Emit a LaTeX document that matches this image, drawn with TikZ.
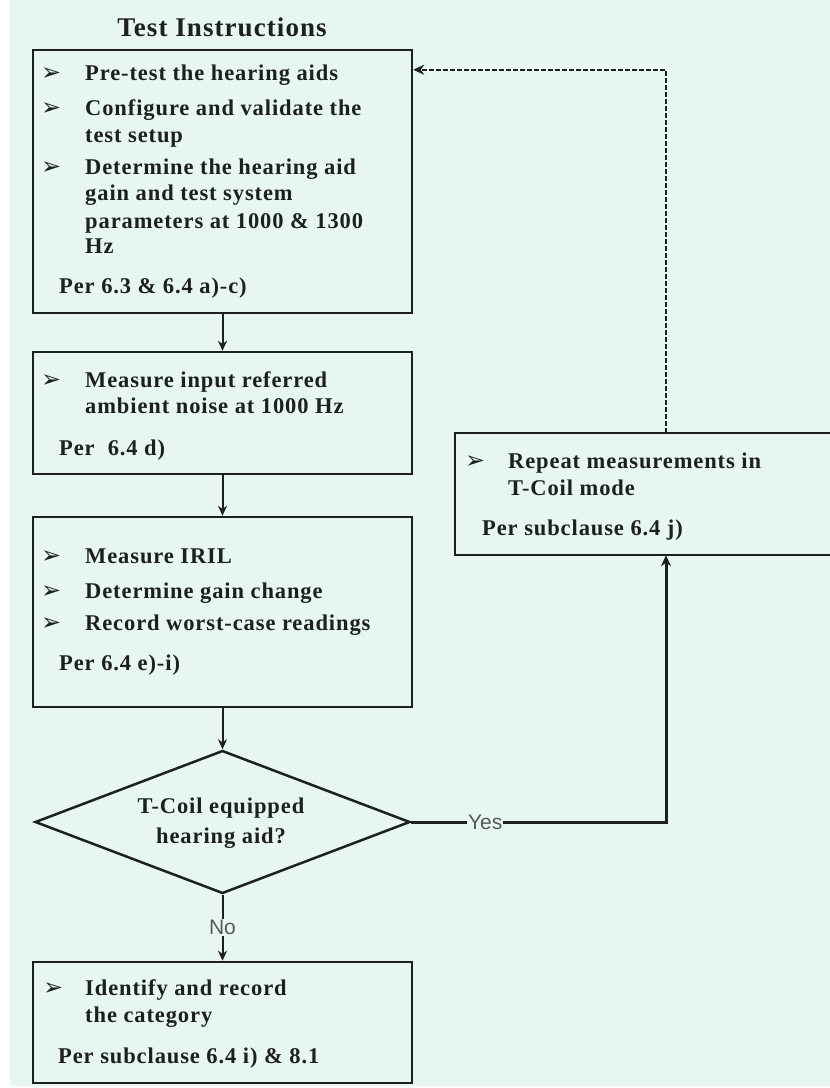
\documentclass[tikz,border=0pt]{standalone}
\usepackage{fontspec}
\setmainfont{Liberation Serif}
\newfontfamily\boxfont{Liberation Serif}[LetterSpace=4]
\newfontfamily\bulfont{DejaVu Sans}
\newfontfamily\lblfont{Liberation Sans}
\usetikzlibrary{shapes.geometric,arrows.meta,calc}
\definecolor{bgmint}{RGB}{232,246,242}
\definecolor{ink}{RGB}{28,32,30}
\definecolor{lblgray}{RGB}{85,90,88}
\tikzset{
  box/.style={draw=ink, line width=2.5pt, rectangle, inner sep=0pt},
  ln/.style={font=\boxfont\bfseries\fontsize{22.5}{26}\selectfont, text=ink, anchor=base west, inner sep=0pt},
  cln/.style={font=\boxfont\bfseries\fontsize{22.5}{26}\selectfont, text=ink, anchor=base, inner sep=0pt},
  blt/.style={font=\bulfont\bfseries\fontsize{24}{26}\selectfont, text=ink, anchor=base west, inner sep=0pt},
  flow/.style={draw=ink, line width=2pt, -{Stealth[length=10pt,width=9pt]}},
  retflow/.style={draw=ink, line width=2.2pt, dash pattern=on 5pt off 2pt, -{Stealth[length=11pt,width=10pt]}},
  yesflow/.style={draw=ink, line width=3pt, -{Stealth[length=11pt,width=10pt]}},
  lbl/.style={font=\lblfont\fontsize{21}{23}\selectfont, text=lblgray, fill=bgmint, inner sep=1pt},
}
\begin{document}
\begin{tikzpicture}[x=1pt,y=-1pt]
\useasboundingbox (0,0) rectangle (830,1088);
\fill[white] (0,0) rectangle (830,1088);
\fill[bgmint] (10,0) rectangle (830,1086);

% title
\node[font=\boxfont\bfseries\fontsize{27}{30}\selectfont, text=ink, anchor=base, inner sep=0pt] (title) at (222,36) {Test Instructions};

% boxes
\node[box, minimum width=379pt, minimum height=263pt] (b1) at (222.5,181.5) {};
\node[box, minimum width=379pt, minimum height=122pt] (b2) at (222.5,413) {};
\node[box, minimum width=379pt, minimum height=190pt] (b3) at (222.5,612) {};
\node[box, minimum width=379pt, minimum height=121pt] (b4) at (222.5,1022.5) {};
\node[diamond, draw=ink, line width=2.5pt, minimum width=375pt, minimum height=143pt, inner sep=0pt] (dia) at (222.5,822) {};
\node[rectangle, inner sep=0pt, minimum width=375pt, minimum height=122pt] (rep) at (642.5,494) {};
\draw[ink, line width=2.5pt] (rep.north east) -- (rep.north west) -- (rep.south west) -- (rep.south east);

% box 1 text
\node[blt] (b1u1) at (41,80) {➢};
\node[ln] (b1t1) at (85,80) {Pre-test the hearing aids};
\node[blt] (b1u2) at (41,115) {➢};
\node[ln] (b1t2) at (85,115) {Configure and validate the};
\node[ln] (b1t3) at (85,142) {test setup};
\node[blt] (b1u3) at (41,174) {➢};
\node[ln] (b1t4) at (85,174) {Determine the hearing aid};
\node[ln] (b1t5) at (85,200) {gain and test system};
\node[ln] (b1t6) at (85,228) {parameters at 1000 \& 1300};
\node[ln] (b1t7) at (85,253) {Hz};
\node[ln] (b1p) at (59,293) {Per 6.3 \& 6.4 a)-c)};

% box 2 text
\node[blt] (b2u1) at (41,387) {➢};
\node[ln] (b2t1) at (85,387) {Measure input referred};
\node[ln] (b2t2) at (85,413) {ambient noise at 1000 Hz};
\node[ln] (b2p) at (59,455) {Per\ \ 6.4 d)};

% box 3 text
\node[blt] (b3u1) at (41,563) {➢};
\node[ln] (b3t1) at (85,563) {Measure IRIL};
\node[blt] (b3u2) at (41,598) {➢};
\node[ln] (b3t2) at (85,598) {Determine gain change};
\node[blt] (b3u3) at (41,630) {➢};
\node[ln] (b3t3) at (85,630) {Record worst-case readings};
\node[ln] (b3p) at (59,670) {Per 6.4 e)-i)};

% right box text
\node[blt] (ru1) at (465,468) {➢};
\node[ln] (rt1) at (508,468) {Repeat measurements in};
\node[ln] (rt2) at (508,495) {T-Coil mode};
\node[ln] (rp) at (482,535) {Per subclause 6.4 j)};

% diamond text
\node[cln] (dt1) at (221,813) {T-Coil equipped};
\node[cln] (dt2) at (221,843) {hearing aid?};

% box 4 text
\node[blt] (b4u1) at (43,995) {➢};
\node[ln] (b4t1) at (85,995) {Identify and record};
\node[ln] (b4t2) at (85,1022) {the category};
\node[ln] (b4p) at (58,1063) {Per subclause 6.4 i) \& 8.1};

% connectors
\coordinate (vx) at (666,0);
\coordinate (b1in) at ($(b1.north east)+(0,21)$);
\draw[flow] (b1.south) -- (b2.north);
\draw[flow] (b2.south) -- (b3.north);
\draw[flow] (b3.south) -- (dia.north);
\draw[flow] (dia.south) -- node[lbl, pos=0.5] (no) {No} (b4.north);
\draw[yesflow] (dia.east) -- node[lbl, pos=0.29] (yes) {Yes} (dia.east -| vx) -- (rep.south -| vx);
\draw[retflow] (rep.north -| vx) |- (b1in);
\end{tikzpicture}
\end{document}
